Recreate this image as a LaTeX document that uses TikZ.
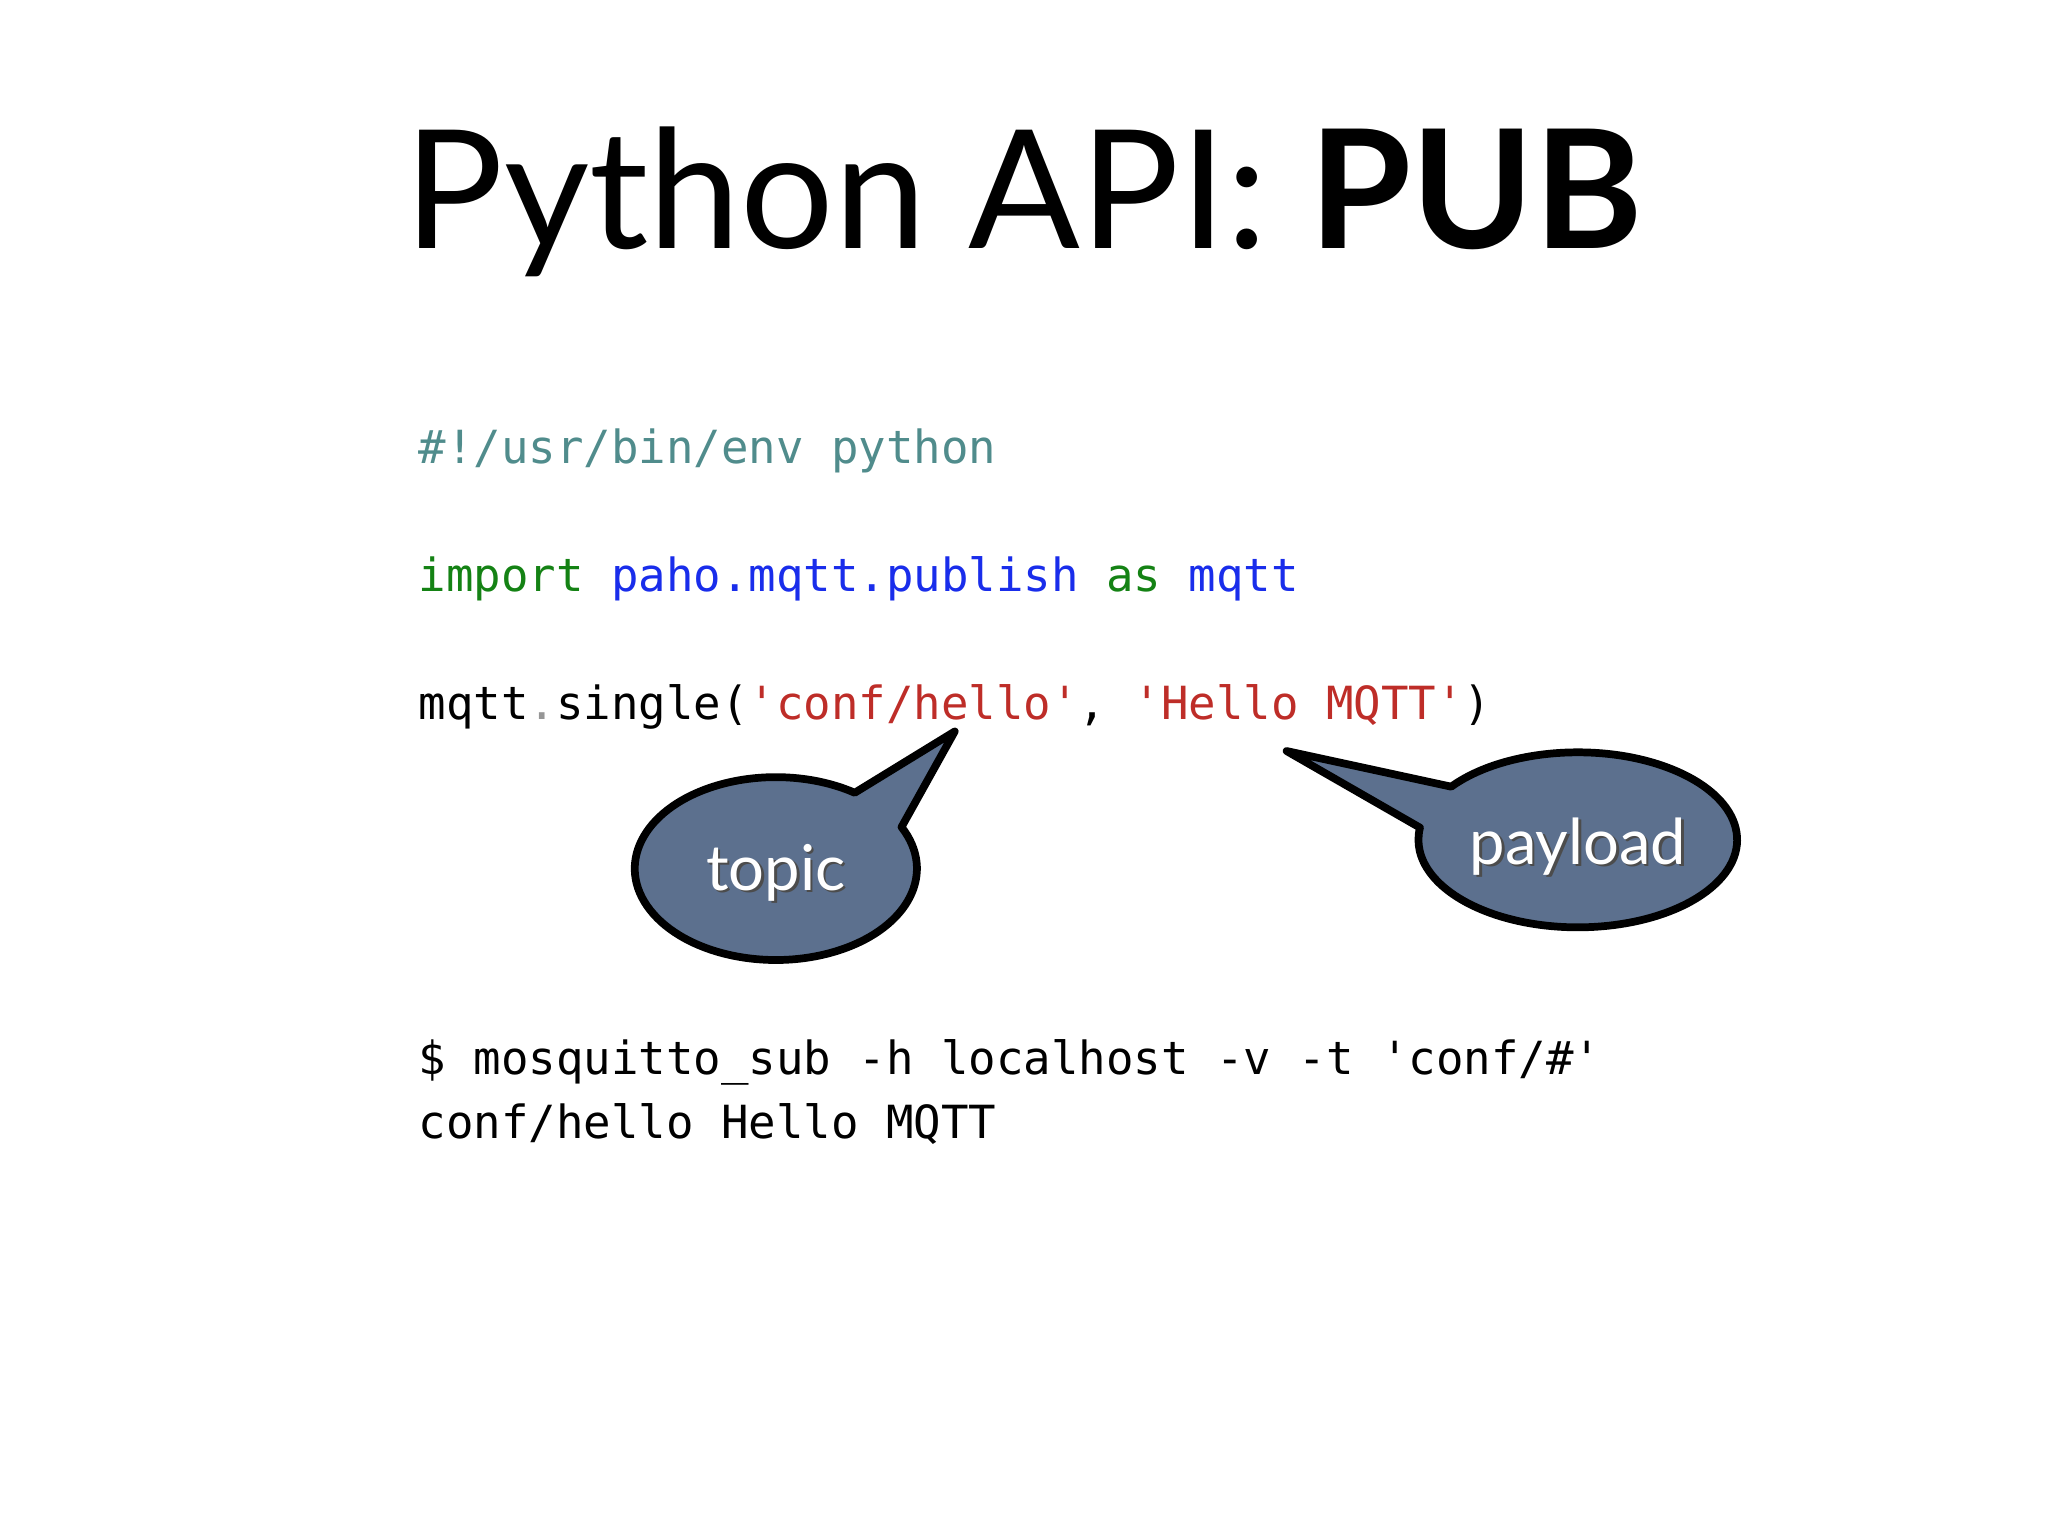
\documentclass[tikz,border=0pt]{standalone}
\usepackage{fontspec}
\usetikzlibrary{calc}
\setmainfont{Lato}
\newfontfamily\codefont{DejaVu Sans Mono}
\definecolor{cmt}{RGB}{80,140,140}
\definecolor{kw}{RGB}{20,130,20}
\definecolor{mod}{RGB}{25,45,235}
\definecolor{str}{RGB}{190,45,40}
\definecolor{dotg}{RGB}{150,150,150}
\definecolor{bub}{RGB}{92,112,142}
\begin{document}
\begin{tikzpicture}[x=0.013061cm,y=-0.013061cm,
  code/.style={anchor=base west,inner sep=0pt,font=\codefont\fontsize{13}{15}\selectfont},
  bubble/.style={fill=bub,draw=black,line width=2.2pt,line join=round},
  btext/.style={font=\fontsize{18}{20}\selectfont,text=white}]
\useasboundingbox[fill=white] (0,0) rectangle (1568,1176);
\node[anchor=base,inner sep=0pt,font=\fontsize{47}{50}\selectfont] (title) at (784,190) {Python API: \textbf{PUB}};
\node[code,text=cmt] (l1) at (320,355) {\#!/usr/bin/env python};
\node[code] (l2) at (320,453) {\textcolor{kw}{import} \textcolor{mod}{paho.mqtt.publish} \textcolor{kw}{as} \textcolor{mod}{mqtt}};
\node[code] (l3) at (320,551) {mqtt\textcolor{dotg}{.}single(\textcolor{str}{'conf/hello'}, \textcolor{str}{'Hello MQTT'})};
\node[code] (l4) at (320,823) {\$ mosquitto\_sub -h localhost -v -t 'conf/\#'};
\node[code] (l5) at (320,872) {conf/hello Hello MQTT};
% topic bubble
\coordinate (tc) at (594,665);
\coordinate (ttip) at (731,560);
\draw[bubble] ($(tc)+(-27:108 and 70)$) arc[start angle=-27,end angle=304,x radius=108,y radius=70] -- (ttip) -- cycle;
\node[btext,text=black!70] at (596,670) {topic};
\node[btext] (topic) at (594,668) {topic};
% payload bubble
\coordinate (pc) at (1208,643);
\coordinate (ptip) at (985,575);
\draw[bubble] ($(pc)+(217.4:122 and 67)$) arc[start angle=217.4,end angle=548,x radius=122,y radius=67] -- (ptip) -- cycle;
\node[btext,text=black!70] at (1210,650) {payload};
\node[btext] (payload) at (1208,648) {payload};
\end{tikzpicture}
\end{document}
